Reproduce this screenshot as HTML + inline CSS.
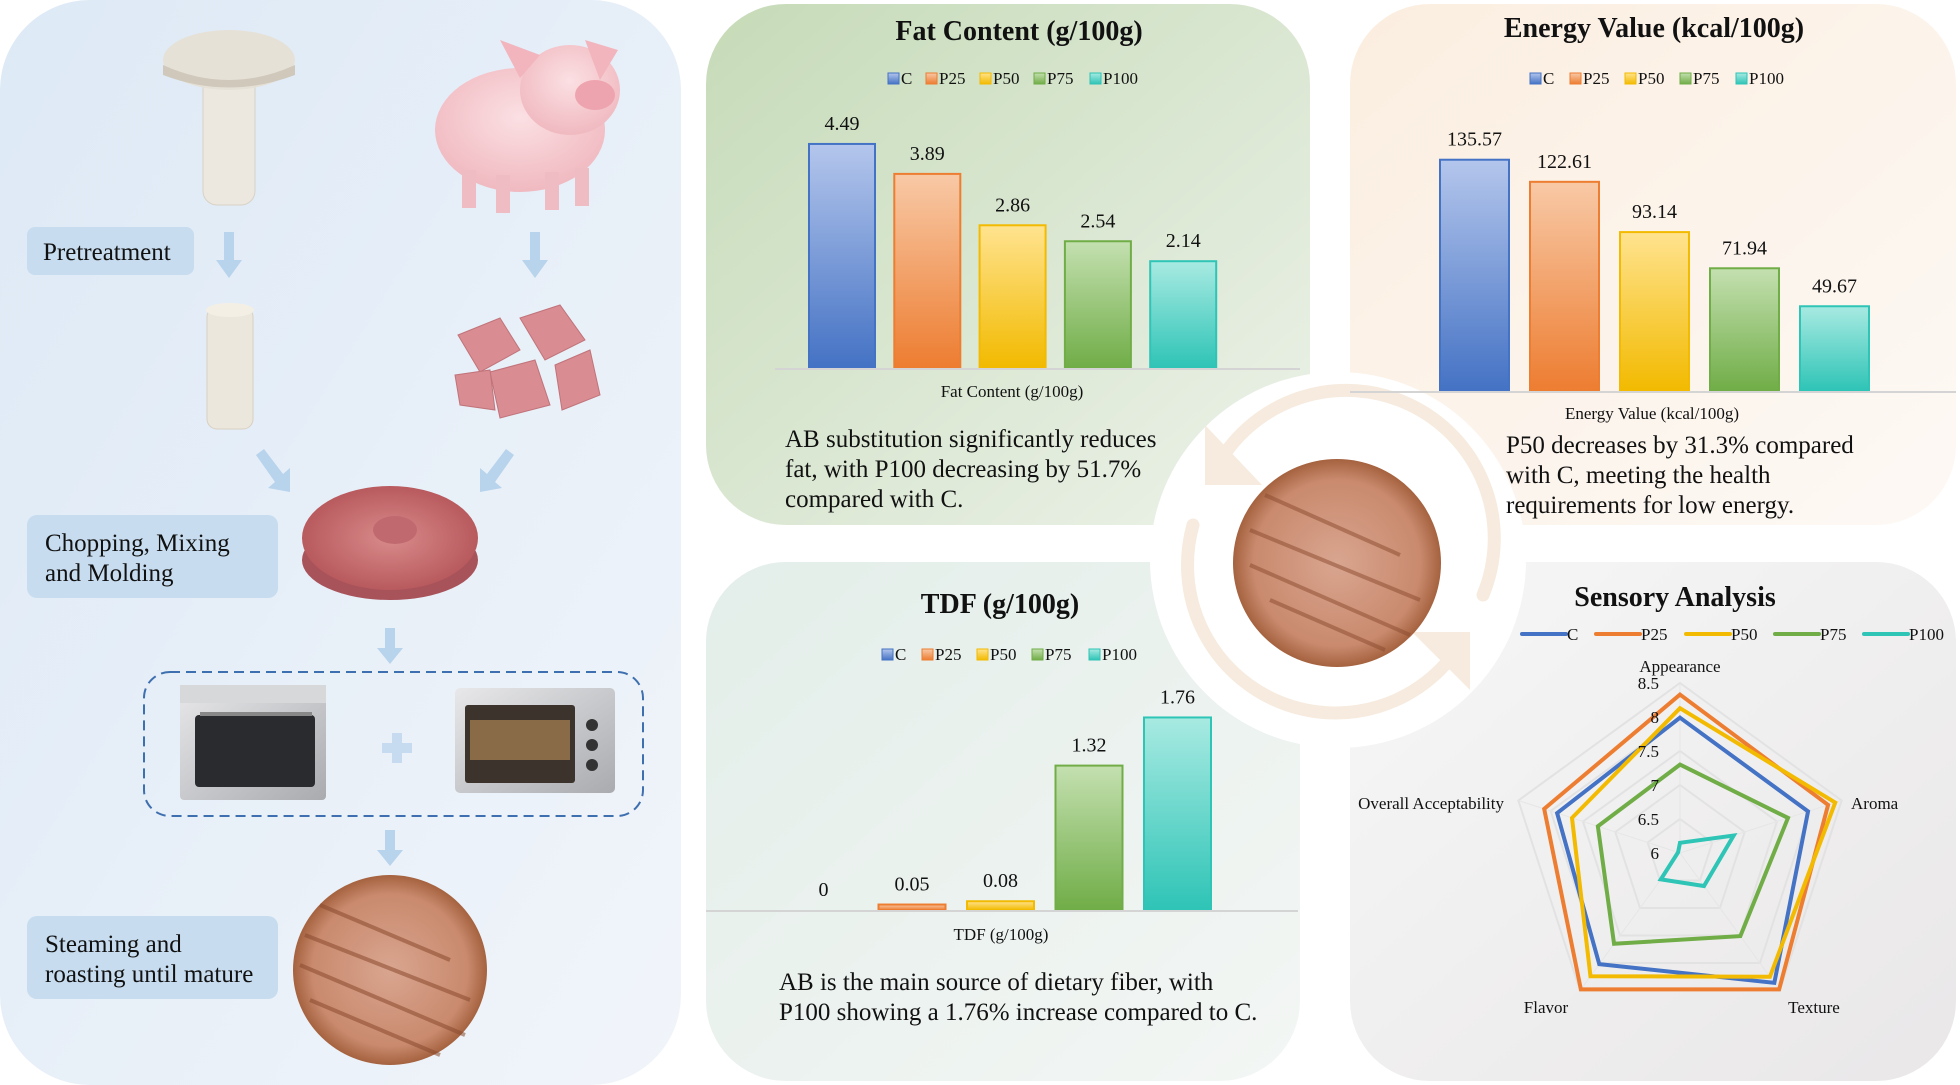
<!DOCTYPE html>
<html><head><meta charset="utf-8">
<style>
html,body{margin:0;padding:0;background:#fff;}
svg{display:block;font-family:"Liberation Serif",serif;}
</style></head>
<body>
<svg id="main" width="1960" height="1085" viewBox="0 0 1960 1085" xmlns="http://www.w3.org/2000/svg">
<defs>
  <linearGradient id="gLeft" x1="0" y1="0" x2="1" y2="1"><stop offset="0" stop-color="#dde9f6"/><stop offset="1" stop-color="#f1f5fa"/></linearGradient>
  <linearGradient id="gFat" x1="0" y1="0" x2="1" y2="1"><stop offset="0" stop-color="#c6dbb8"/><stop offset="1" stop-color="#edf2ea"/></linearGradient>
  <linearGradient id="gEn" x1="0" y1="0" x2="1" y2="1"><stop offset="0" stop-color="#fbeee0"/><stop offset="1" stop-color="#fdf9f5"/></linearGradient>
  <linearGradient id="gTdf" x1="0" y1="0" x2="1" y2="1"><stop offset="0" stop-color="#e3eee9"/><stop offset="1" stop-color="#f3f6f4"/></linearGradient>
  <linearGradient id="gSen" x1="0" y1="0" x2="1" y2="1"><stop offset="0" stop-color="#f7f7f7"/><stop offset="1" stop-color="#e9e7e8"/></linearGradient>
  <radialGradient id="gPatty" cx="0.5" cy="0.5" r="0.5"><stop offset="0" stop-color="#d9a58f"/><stop offset="0.8" stop-color="#c98a6e"/><stop offset="1" stop-color="#a5623f"/></radialGradient>
  <radialGradient id="gRaw" cx="0.5" cy="0.5" r="0.5"><stop offset="0" stop-color="#d98b8b"/><stop offset="1" stop-color="#b85a5e"/></radialGradient>
  <radialGradient id="gPig" cx="0.5" cy="0.4" r="0.6"><stop offset="0" stop-color="#fbe0e3"/><stop offset="1" stop-color="#f0b9c0"/></radialGradient>
  <linearGradient id="gOven" x1="0" y1="0" x2="1" y2="1"><stop offset="0" stop-color="#e8e8ea"/><stop offset="1" stop-color="#a9abaf"/></linearGradient>
</defs>

<!-- Left process panel -->
<g>
  <rect x="0" y="0" width="681" height="1085" rx="90" fill="url(#gLeft)"/>
  <g>
    <rect x="203" y="70" width="52" height="135" rx="14" fill="#ece8e0" stroke="#d8d2c6"/>
    <ellipse cx="229" cy="60" rx="66" ry="30" fill="#e6e1d7"/>
    <path d="M163 65 Q229 95 295 65 L295 75 Q229 100 163 75 Z" fill="#cfc8bb"/>
  </g>
  <g>
    <ellipse cx="520" cy="130" rx="85" ry="62" fill="url(#gPig)"/>
    <ellipse cx="570" cy="90" rx="50" ry="45" fill="url(#gPig)"/>
    <path d="M500 40 L520 78 L540 55 Z" fill="#f2b5bd"/>
    <path d="M585 40 L600 80 L618 50 Z" fill="#f2b5bd"/>
    <ellipse cx="595" cy="95" rx="20" ry="15" fill="#eea4ae"/>
    <rect x="462" y="170" width="14" height="38" fill="#f0bcc3"/><rect x="496" y="175" width="14" height="38" fill="#f0bcc3"/>
    <rect x="545" y="172" width="14" height="38" fill="#f0bcc3"/><rect x="575" y="168" width="14" height="38" fill="#f0bcc3"/>
  </g>
  <g>
    <rect x="27" y="227" width="167" height="48" rx="8" fill="#c7dcef"/>
    <text x="43" y="260" font-size="25" fill="#111">Pretreatment</text>
  </g>
  <g fill="#b8d3ec">
    <rect x="224" y="232" width="10" height="30"/><path d="M216 260 L242 260 L229 278 Z"/>
    <rect x="530" y="232" width="10" height="30"/><path d="M522 260 L548 260 L535 278 Z"/>
    <path d="M256 455 L264 449 L283 474 L290 468 L290 492 L268 488 L275 482 Z"/>
    <path d="M514 455 L506 449 L487 474 L480 468 L480 492 L502 488 L495 482 Z"/>
    <rect x="385" y="628" width="10" height="22"/><path d="M377 648 L403 648 L390 664 Z"/>
    <rect x="385" y="830" width="10" height="22"/><path d="M377 850 L403 850 L390 866 Z"/>
  </g>
  <g>
    <rect x="207" y="307" width="46" height="122" rx="10" fill="#ece7dc" stroke="#d8d0c0"/>
    <ellipse cx="230" cy="310" rx="24" ry="7" fill="#f4efe5"/>
  </g>
  <g fill="#d98c92" stroke="#c1737a">
    <path d="M458 335 L500 318 L520 350 L480 372 Z"/>
    <path d="M520 318 L560 305 L585 340 L545 360 Z"/>
    <path d="M490 372 L535 360 L550 405 L500 418 Z"/>
    <path d="M555 365 L590 350 L600 395 L562 410 Z"/>
    <path d="M455 375 L490 370 L495 410 L460 405 Z"/>
  </g>
  <g>
    <ellipse cx="390" cy="560" rx="88" ry="40" fill="#a8525a"/>
    <ellipse cx="390" cy="538" rx="88" ry="52" fill="url(#gRaw)"/>
    <ellipse cx="395" cy="530" rx="22" ry="14" fill="#c06a70"/>
  </g>
  <g>
    <rect x="27" y="515" width="251" height="83" rx="10" fill="#c7dcef"/>
    <text x="45" y="551" font-size="25" fill="#111">Chopping, Mixing</text>
    <text x="45" y="581" font-size="25" fill="#111">and Molding</text>
  </g>
  <rect x="144" y="672" width="499" height="144" rx="26" fill="none" stroke="#3e6fae" stroke-width="2" stroke-dasharray="10 6"/>
  <g>
    <rect x="180" y="685" width="146" height="115" rx="4" fill="url(#gOven)"/>
    <rect x="180" y="685" width="146" height="18" fill="#d7d8da"/>
    <rect x="195" y="715" width="120" height="72" rx="4" fill="#2a2b2e"/>
    <rect x="200" y="712" width="112" height="4" fill="#888"/>
  </g>
  <g fill="#c6dbf0">
    <rect x="382" y="743" width="30" height="10"/><rect x="392" y="733" width="10" height="30"/>
  </g>
  <g>
    <rect x="455" y="688" width="160" height="105" rx="5" fill="url(#gOven)"/>
    <rect x="465" y="705" width="110" height="78" rx="3" fill="#3b332c"/>
    <rect x="470" y="720" width="100" height="40" fill="#8a6b47"/>
    <circle cx="592" cy="725" r="6" fill="#333"/><circle cx="592" cy="745" r="6" fill="#333"/><circle cx="592" cy="765" r="6" fill="#333"/>
  </g>
  <g>
    <ellipse cx="390" cy="970" rx="97" ry="95" fill="url(#gPatty)"/>
    <g stroke="#8a4a2e" stroke-width="4" opacity="0.55">
      <line x1="320" y1="905" x2="450" y2="960"/><line x1="305" y1="935" x2="470" y2="1000"/>
      <line x1="300" y1="965" x2="465" y2="1035"/><line x1="310" y1="1000" x2="440" y2="1055"/>
    </g>
  </g>
  <g>
    <rect x="27" y="916" width="251" height="83" rx="10" fill="#c7dcef"/>
    <text x="45" y="952" font-size="25" fill="#111">Steaming and</text>
    <text x="45" y="982" font-size="25" fill="#111">roasting until mature</text>
  </g>
</g>

<!-- Panels -->
<rect x="706" y="4" width="604" height="521" rx="80" fill="url(#gFat)"/>
<rect x="1350" y="4" width="606" height="521" rx="80" fill="url(#gEn)"/>
<rect x="706" y="562" width="594" height="519" rx="80" fill="url(#gTdf)"/>
<rect x="1350" y="562" width="606" height="519" rx="80" fill="url(#gSen)"/>

<!-- Center hub -->
<g>
  <circle cx="1338" cy="560" r="188" fill="#fff"/>
  <path d="M1193 525 A148 148 0 0 0 1460 645" fill="none" stroke="#f6ebde" stroke-width="13" stroke-linecap="round"/>
  <path d="M1483 595 A148 148 0 0 0 1215 470" fill="none" stroke="#f6ebde" stroke-width="13" stroke-linecap="round"/>
  <path d="M1205 425 L1205 485 L1262 485 Z" fill="#f6ebde"/>
  <path d="M1470 690 L1470 632 L1412 632 Z" fill="#f6ebde"/>
  <ellipse cx="1337" cy="563" rx="104" ry="104" fill="url(#gPatty)"/>
  <g stroke="#8a4a2e" stroke-width="4" opacity="0.5">
    <line x1="1265" y1="495" x2="1400" y2="555"/><line x1="1250" y1="530" x2="1420" y2="600"/>
    <line x1="1250" y1="565" x2="1410" y2="635"/><line x1="1270" y1="600" x2="1385" y2="650"/>
  </g>
</g>

<g id="charts"></g>

<!-- Captions -->
<g font-size="25" fill="#111">
  <text x="785" y="447">AB substitution significantly reduces</text>
  <text x="785" y="477">fat, with P100 decreasing by 51.7%</text>
  <text x="785" y="507">compared with C.</text>
</g>
<g font-size="25" fill="#111">
  <text x="1506" y="453">P50 decreases by 31.3% compared</text>
  <text x="1506" y="483">with C, meeting the health</text>
  <text x="1506" y="513">requirements for low energy.</text>
</g>
<g font-size="25" fill="#111">
  <text x="779" y="990">AB is the main source of dietary fiber, with</text>
  <text x="779" y="1020">P100 showing a 1.76% increase compared to C.</text>
</g>
</svg>

<script>
const groups = ["C","P25","P50","P75","P100"];
const colors = ["#4472C4","#ED7D31","#F2BA00","#70AD47","#2EC4B6"];
const lightColors = ["#b4c6ec","#f8c9a6","#ffe38f","#c4e0b0","#a8eae2"];
const fatValues = [4.49,3.89,2.86,2.54,2.14];
const fatLabels = ["4.49","3.89","2.86","2.54","2.14"];
const energyValues = [135.57,122.61,93.14,71.94,49.67];
const energyLabels = ["135.57","122.61","93.14","71.94","49.67"];
const tdfValues = [0,0.05,0.08,1.32,1.76];
const tdfLabels = ["0","0.05","0.08","1.32","1.76"];
const sensoryAxes = ["Appearance","Aroma","Texture","Flavor","Overall Acceptability"];
const sensoryTicks = ["6","6.5","7","7.5","8","8.5"];
const sensC = [7.99,7.98,8.36,8.02,7.90];
const sensP25 = [8.33,8.29,8.48,8.48,8.10];
const sensP50 = [8.13,8.40,8.25,8.24,7.67];
const sensP75 = [7.30,7.67,7.51,7.65,7.27];
const sensP100 = [6.15,6.83,6.60,6.48,6.03];

const NS = "http://www.w3.org/2000/svg";
const root = document.getElementById("charts");
function mk(tag, attrs, parent){
  const e = document.createElementNS(NS, tag);
  for (const k in attrs) e.setAttribute(k, attrs[k]);
  (parent||root).appendChild(e);
  return e;
}
const defs = document.querySelector("defs");
groups.forEach((g,i)=>{
  const lg = mk("linearGradient",{id:"bar"+i,x1:"0",y1:"0",x2:"0",y2:"1"},defs);
  mk("stop",{offset:"0","stop-color":lightColors[i]},lg);
  mk("stop",{offset:"1","stop-color":colors[i]},lg);
});

function barChart(cfg){
  const g = mk("g",{});
  
  
  const t = mk("text",{x:cfg.titleX,y:cfg.titleY,"font-size":28,"font-weight":"bold","text-anchor":"middle",fill:"#111"},g);
  t.textContent = cfg.title;
  
  
  groups.forEach((name,i)=>{
    const lx = cfg.legendX[i];
    const item = mk("g",{},g);
    
    
    mk("rect",{x:lx,y:cfg.legendY-11,width:11,height:11,fill:"url(#bar"+i+")",stroke:colors[i]},item);
    const tx = mk("text",{x:lx+13,y:cfg.legendY,"font-size":17,fill:"#111"},item);
    tx.textContent = name;
  });
  const yScale = v => cfg.base - v*cfg.scale;
  const xScale = i => cfg.x0 + i*cfg.step;
  cfg.values.forEach((v,i)=>{
    const y = yScale(v);
    const r = mk("rect",{x:xScale(i),y:y,width:cfg.w,height:cfg.base-y,fill:"url(#bar"+i+")",stroke:colors[i],"stroke-width":2},g);
    
    
    const lab = mk("text",{x:xScale(i)+cfg.w/2,y:y-14,"font-size":20,"text-anchor":"middle",fill:"#111"},g);
    lab.textContent = cfg.labels[i];
    
    
  });
  const ax = mk("line",{x1:cfg.ax1,x2:cfg.ax2,y1:cfg.base+1,y2:cfg.base+1,stroke:"#d4d4d4","stroke-width":2},g);
  
  
  const al = mk("text",{x:cfg.axLabelX,y:cfg.axLabelY,"font-size":17,"text-anchor":"middle",fill:"#111"},g);
  al.textContent = cfg.title;
  
  
}

barChart({name:"fat-chart",title:"Fat Content (g/100g)",titleX:1019,titleY:40,legendX:[888,926,980,1034,1090],legendY:84,
  values:fatValues,labels:fatLabels,base:368,scale:49.9,x0:809,step:85.3,w:66,ax1:775,ax2:1300,axLabelX:1012,axLabelY:397});
barChart({name:"energy-chart",title:"Energy Value (kcal/100g)",titleX:1654,titleY:37,legendX:[1530,1570,1625,1680,1736],legendY:84,
  values:energyValues,labels:energyLabels,base:391,scale:1.706,x0:1440,step:90,w:69,ax1:1350,ax2:1956,axLabelX:1652,axLabelY:419});
barChart({name:"tdf-chart",title:"TDF (g/100g)",titleX:1000,titleY:613,legendX:[882,922,977,1032,1089],legendY:660,
  values:tdfValues,labels:tdfLabels,base:910,scale:109.4,x0:790,step:88.5,w:67,ax1:706,ax2:1298,axLabelX:1001,axLabelY:940});

// Radar chart
(function(){
  const cx=1680, cy=853, R=170, vmin=6, vmax=8.5;
  const series=[sensC,sensP25,sensP50,sensP75,sensP100];
  const g = mk("g",{});
  
  
  const t = mk("text",{x:1675,y:606,"font-size":28,"font-weight":"bold","text-anchor":"middle",fill:"#111"},g);
  t.textContent = "Sensory Analysis";
  
  
  const legX=[1522,1596,1686,1775,1864];
  groups.forEach((name,i)=>{
    const item = mk("g",{},g);
    
    
    mk("line",{x1:legX[i],x2:legX[i]+44,y1:634,y2:634,stroke:colors[i],"stroke-width":4,"stroke-linecap":"round"},item);
    const tx = mk("text",{x:legX[i]+45,y:640,"font-size":17,fill:"#111"},item);
    tx.textContent = name;
  });
  const rScale = v => (v-vmin)/(vmax-vmin)*R;
  const pt = (k,v) => { const a = -Math.PI/2 + k*2*Math.PI/5; const r=rScale(v); return [cx+r*Math.cos(a), cy+r*Math.sin(a)]; };
  sensoryTicks.forEach((tk)=>{
    const v = parseFloat(tk);
    if (v>vmin){
      const pts = sensoryAxes.map((_,k)=>pt(k,v).join(",")).join(" ");
      mk("polygon",{points:pts,fill:"none",stroke:"#e2e2e2","stroke-width":2},g);
    }
  });
  sensoryAxes.forEach((_,k)=>{
    const p = pt(k,vmax);
    mk("line",{x1:cx,y1:cy,x2:p[0],y2:p[1],stroke:"#e6e6e6","stroke-width":1},g);
  });
  const labPos=[[1680,672,"middle"],[1851,809,"start"],[1814,1013,"middle"],[1546,1013,"middle"],[1504,809,"end"]];
  sensoryAxes.forEach((a,k)=>{
    const l = mk("text",{x:labPos[k][0],y:labPos[k][1],"font-size":17,"text-anchor":labPos[k][2],fill:"#111"},g);
    l.textContent = a;
    
    
  });
  series.forEach((s,i)=>{
    const pts = s.map((v,k)=>pt(k,v).join(",")).join(" ");
    const p = mk("polygon",{points:pts,fill:"none",stroke:colors[i],"stroke-width":4,"stroke-linejoin":"miter"},g);
    
    
  });
  sensoryTicks.forEach((tk)=>{
    const v = parseFloat(tk);
    const tl = mk("text",{x:1659,y:cy-rScale(v)+6,"font-size":17,"text-anchor":"end",fill:"#111"},g);
    tl.textContent = tk;
    
    
  });
})();
</script>
</body></html>
